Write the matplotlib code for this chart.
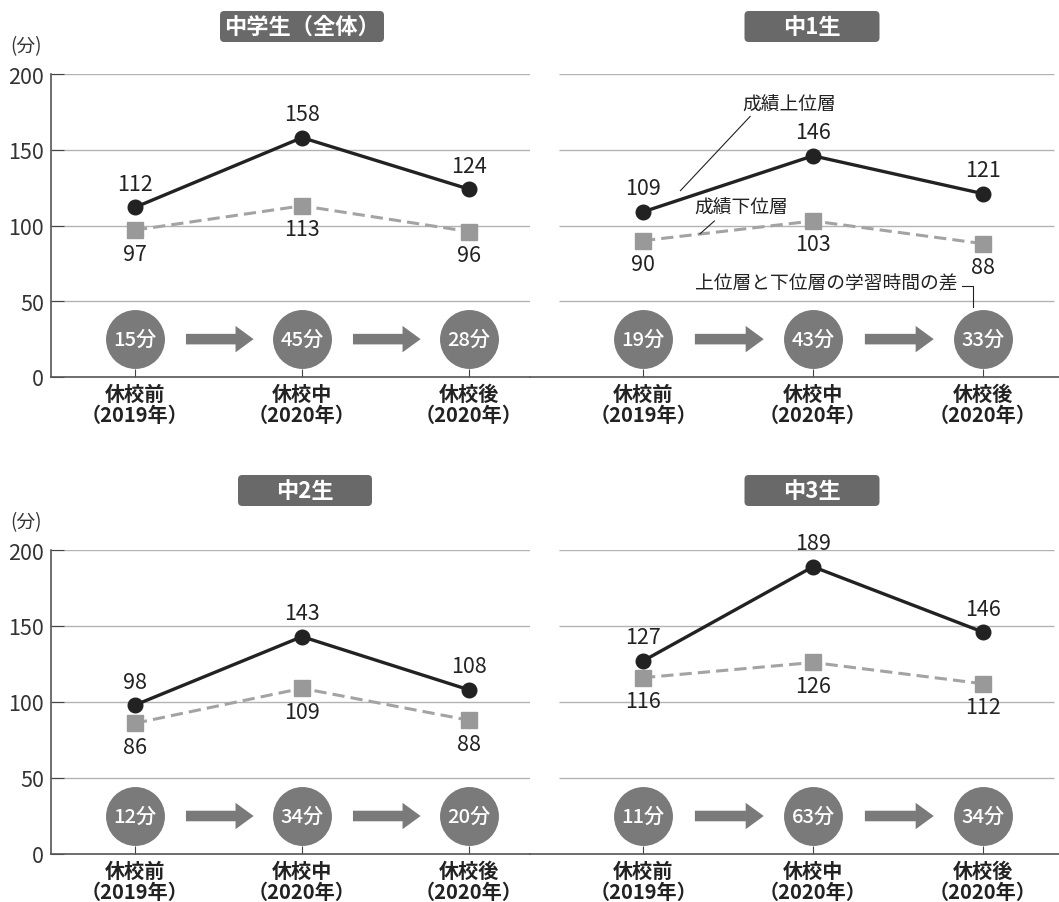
import matplotlib
matplotlib.use('Agg')
import matplotlib.pyplot as plt
from matplotlib.patches import FancyBboxPatch

plt.rcParams['font.family'] = ['Noto Sans CJK JP', 'DejaVu Sans']

# 学習時間（分）
categories = ['休校前\n（2019年）', '休校中\n（2020年）', '休校後\n（2020年）']
titles = ['中学生（全体）', '中1生', '中2生', '中3生']
upper = [[112, 158, 124], [109, 146, 121], [98, 143, 108], [127, 189, 146]]
lower = [[97, 113, 96], [90, 103, 88], [86, 109, 88], [116, 126, 112]]
gap = [[15, 45, 28], [19, 43, 33], [12, 34, 20], [11, 63, 34]]
yticks = [0, 50, 100, 150, 200]

W, H = 1059, 903
fig = plt.figure(figsize=(W / 100, H / 100), dpi=100)


def fx(px):
    return px / W


def fy(py):
    return 1 - py / H


# 軸の位置（ピクセル）: left, right, top(200), bottom(0)
boxes = [(51, 530, 75, 378), (530, 1059, 75, 378),
         (51, 530, 551, 855), (530, 1059, 551, 855)]
xlims = [(-0.503, 2.365), (-0.665, 2.447), (-0.503, 2.365), (-0.665, 2.447)]
title_pos = [(302, 27.5, 164), (812, 27.5, 135), (305, 491.5, 134), (812, 491.5, 135)]

DARK = '#222222'
GRAY = '#999999'
CIRC = '#7a7a7a'

axes = []
for i in range(4):
    l, r, t, b = boxes[i]
    ax = fig.add_axes([fx(l), fy(b), fx(r - l), fy(t) - fy(b)])
    axes.append(ax)
    x = list(range(3))
    left_side = i % 2 == 0
    ax.set_xlim(*xlims[i])
    ax.set_ylim(0, 200)

    # 目盛線
    g0, g1 = (xlims[i][0], xlims[i][1]) if left_side else (-0.494, 2.42)
    ax.hlines(yticks[1:], g0, g1, colors='#b3b3b3', lw=1, zorder=0)

    ax.plot(x, lower[i], color='#a3a3a3', lw=2.2, ls=(0, (4, 2)), zorder=2)
    ax.plot(x, lower[i], 's', color=GRAY, ms=12, zorder=3, clip_on=False)
    ax.plot(x, upper[i], color=DARK, lw=2.4, marker='o', ms=10.5, zorder=4, clip_on=False)

    for xi, u, d in zip(x, upper[i], lower[i]):
        ax.annotate(str(u), (xi, u), xytext=(0, 9), textcoords='offset points',
                    ha='center', va='bottom', fontsize=15.5, color='#222')
        ax.annotate(str(d), (xi, d), xytext=(0, -9), textcoords='offset points',
                    ha='center', va='top', fontsize=15.5, color='#222')

    # 上位層と下位層の差
    ax.scatter(x, [25] * 3, s=1800, color=CIRC, zorder=3, clip_on=False, lw=0)
    for xi, gv in zip(x, gap[i]):
        ax.text(xi, 25, f'{gv}分', ha='center', va='center', color='white',
                fontsize=14.5, fontweight='medium', zorder=4)
    for a0 in (0.305, 1.305):
        ax.annotate('', xy=(a0 + 0.405, 25), xytext=(a0, 25),
                    arrowprops=dict(arrowstyle='simple,head_length=0.65,head_width=0.95,tail_width=0.38',
                                    mutation_scale=20, color=CIRC, shrinkA=0, shrinkB=0, lw=0))

    ax.set_xticks(x)
    ax.set_xticklabels(categories, fontsize=14.5, fontweight='bold', linespacing=1.05, color='#222')
    ax.tick_params(axis='x', direction='in', length=6, color='#444', pad=4)
    for s in ('top', 'right'):
        ax.spines[s].set_visible(False)
    ax.spines['bottom'].set_color('#555')
    ax.spines['bottom'].set_linewidth(1.2)
    if left_side:
        ax.set_yticks(yticks)
        ax.tick_params(axis='y', direction='in', length=9, color='#444', labelsize=15.5,
                       pad=5, labelcolor='#333')
        ax.spines['left'].set_color('#555')
        ax.spines['left'].set_linewidth(1.2)
        fig.text(fx(26), fy(t - 28), '(分)', ha='center', va='center', fontsize=13.5, color='#333')
    else:
        ax.set_yticks([])
        ax.spines['left'].set_visible(False)

    # 見出しボックス
    cx, cy, bw = title_pos[i]
    fig.patches.append(FancyBboxPatch((fx(cx - bw / 2), fy(cy + 15.5)), fx(bw), fy(0) - fy(31),
                                      boxstyle='round,pad=0,rounding_size=0.004',
                                      mutation_aspect=W / H, transform=fig.transFigure,
                                      facecolor='#696969', edgecolor='none'))
    fig.text(fx(cx), fy(cy), titles[i], ha='center', va='center', color='white',
             fontsize=16, fontweight='bold')

# 凡例の引き出し線（中1生）
ax = axes[1]
ax.plot([0.22, 0.63], [123, 172], color='#222', lw=0.8)
ax.text(0.86, 180, '成績上位層', ha='center', va='center', fontsize=13.5, color='#222')
ax.plot([0.335, 0.42], [94.5, 103], color='#222', lw=0.8)
ax.text(0.58, 112, '成績下位層', ha='center', va='center', fontsize=13.5, color='#222')
ax.text(1.85, 62, '上位層と下位層の学習時間の差', ha='right', va='center', fontsize=13.5, color='#222')
ax.plot([1.875, 1.94, 1.94], [60, 60, 46], color='#222', lw=0.8)

fig.savefig('out.png', dpi=100)
